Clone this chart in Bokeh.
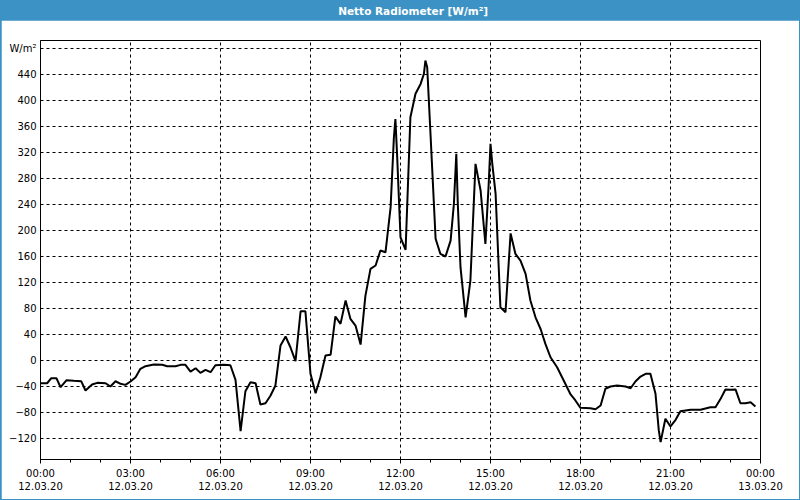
from bokeh.plotting import figure
from bokeh.layouts import column
from bokeh.models import Range1d, FixedTicker
from bokeh.core.properties import value
from bokeh.embed import file_html
from bokeh.resources import INLINE

TITLE = "Netto Radiometer [W/m²]"
UNIT = "W/m²"

hours = [0.0, 0.22, 0.36, 0.53, 0.67, 0.87, 1.11, 1.36, 1.5, 1.72, 1.89, 2.17, 2.33, 2.5, 2.67, 2.83,
         3.0, 3.17, 3.33, 3.5, 3.78, 4.06, 4.22, 4.5, 4.67, 4.83, 5.0, 5.17, 5.33, 5.5, 5.67, 5.83,
         6.11, 6.33, 6.5, 6.67, 6.83, 7.0, 7.17, 7.33, 7.5, 7.67, 7.83, 8.0, 8.17, 8.33, 8.5, 8.67,
         8.83, 9.0, 9.17, 9.33, 9.5, 9.67, 9.83, 10.0, 10.17, 10.33, 10.5, 10.67, 10.83, 11.0, 11.17,
         11.33, 11.5, 11.67, 11.78, 11.83, 11.89, 12.0, 12.17, 12.33, 12.5, 12.67, 12.78, 12.83, 12.89,
         13.0, 13.17, 13.33, 13.5, 13.67, 13.78, 13.86, 13.91, 14.0, 14.17, 14.33, 14.5, 14.67, 14.83,
         14.94, 15.0, 15.06, 15.17, 15.33, 15.5, 15.67, 15.83, 16.0, 16.17, 16.33, 16.5, 16.67, 16.83,
         17.0, 17.22, 17.44, 17.67, 17.83, 18.0, 18.33, 18.5, 18.67, 18.83, 19.0, 19.22, 19.5, 19.67,
         19.83, 20.0, 20.17, 20.33, 20.5, 20.61, 20.67, 20.83, 21.0, 21.17, 21.33, 21.67, 22.0, 22.33,
         22.5, 22.67, 22.83, 23.0, 23.17, 23.33, 23.5, 23.67, 23.83]
netto = [-34.5, -34.5, -26.7, -26.7, -40.6, -29.8, -30.8, -31.5, -45.7, -36.5, -33.9, -34.5, -39.5, -31.4, -35.4, -37,
         -31.8, -25.2, -12.3, -8.3, -5.7, -6, -8.3, -8.3, -6.2, -6.2, -16.5, -11.4, -18.5, -13.8, -17.5, -6.8,
         -6.2, -6.8, -29.2, -108, -46.8, -32.9, -34.5, -67.2, -65.2, -53.4, -38, 23.5, 37.4, 20.9, -0.6, 76.3,
         76.3, -20, -49.8, -25.2, 8.2, 9.2, 68.2, 56.9, 92.8, 64.6, 54.3, 25, 100, 141.5, 146.6,
         169.7, 167, 236, 344, 372, 313, 190, 170.8, 374.8, 410.8, 426, 441.5, 462, 451.7,
         349, 187.7, 164.6, 160.5, 185, 241.5, 318.5, 241.5, 144, 67, 123.5, 303, 262, 180,
         272, 333.8, 303, 257, 82.5, 74.8, 196, 164.6, 154.3, 133.8, 92.8, 67, 49, 26,
         5.5, -9.8, -30.3, -51.8, -61, -72.3, -72.9, -74.5, -68.8, -43, -39.5, -38, -39.5, -42.2,
         -31.8, -24.2, -20, -20, -50.8, -107, -125, -89, -101, -90.8, -77.5, -75.4, -75.4, -71.4,
         -71.4, -58.5, -44.2, -44.5, -44.2, -65.2, -65.2, -63.7, -70.3]

x_ticks = [0, 3, 6, 9, 12, 15, 18, 21, 24]
x_tick_labels = ["00:00\n12.03.20", "03:00\n12.03.20", "06:00\n12.03.20", "09:00\n12.03.20",
                 "12:00\n12.03.20", "15:00\n12.03.20", "18:00\n12.03.20", "21:00\n12.03.20",
                 "00:00\n13.03.20"]
x_minor = list(range(0, 25))
y_ticks = [-120, -80, -40, 0, 40, 80, 120, 160, 200, 240, 280, 320, 360, 400, 440, 480]

BLUE = "#3c92c4"
FONT = "DejaVu Sans"

top = figure(width=800, height=20, x_range=Range1d(0, 1), y_range=Range1d(0, 1),
             toolbar_location=None, output_backend="svg",
             x_axis_location=None, y_axis_location=None, min_border=0)
top.background_fill_color = BLUE
top.border_fill_color = BLUE
top.outline_line_color = None
top.grid.visible = False
top.text(x=[0.5175], y=[0.5], text=[TITLE], text_align="center", text_baseline="middle",
         text_color="white", text_font_style="bold", text_font=value(FONT), text_font_size="10.5px")

p = figure(width=798, height=479, x_range=Range1d(0, 24), y_range=Range1d(-151.8, 492.8),
           toolbar_location=None, output_backend="svg",
           min_border_left=39, min_border_right=39, min_border_top=20, min_border_bottom=40)
p.margin = (0, 1, 1, 1)
p.background_fill_color = "white"
p.border_fill_color = "white"
p.outline_line_color = "black"
p.outline_line_width = 1

p.line(x=hours, y=netto, line_color="black", line_width=2)

xa = p.xaxis[0]
xa.ticker = FixedTicker(ticks=x_ticks, minor_ticks=x_minor)
xa.major_label_overrides = {t: l for t, l in zip(x_ticks, x_tick_labels)}
xa.major_tick_out = 4
xa.major_tick_in = 0
xa.minor_tick_out = 3
xa.minor_tick_in = 0
xa.major_tick_line_color = "black"
xa.minor_tick_line_color = "black"
xa.axis_line_color = "black"
xa.major_label_standoff = 4
xa.major_label_text_font = FONT
xa.major_label_text_font_size = "10px"
xa.major_label_text_color = "black"

ya = p.yaxis[0]
ya.ticker = FixedTicker(ticks=y_ticks, minor_ticks=[])
ya.major_label_overrides = {480: UNIT}
ya.major_tick_out = 0
ya.major_tick_in = 0
ya.minor_tick_out = 0
ya.minor_tick_in = 0
ya.axis_line_color = "black"
ya.major_label_standoff = 4
ya.major_label_text_font = FONT
ya.major_label_text_font_size = "10px"
ya.major_label_text_color = "black"

p.xgrid.ticker = FixedTicker(ticks=x_ticks[1:-1])
p.ygrid.ticker = FixedTicker(ticks=y_ticks)
for g in (p.xgrid[0], p.ygrid[0]):
    g.grid_line_color = "black"
    g.grid_line_dash = "3 3"
    g.grid_line_width = 1
    g.grid_line_alpha = 1.0

layout = column(top, p, spacing=0, styles={"background-color": BLUE})

open("out.html", "w").write(file_html(layout, INLINE))
